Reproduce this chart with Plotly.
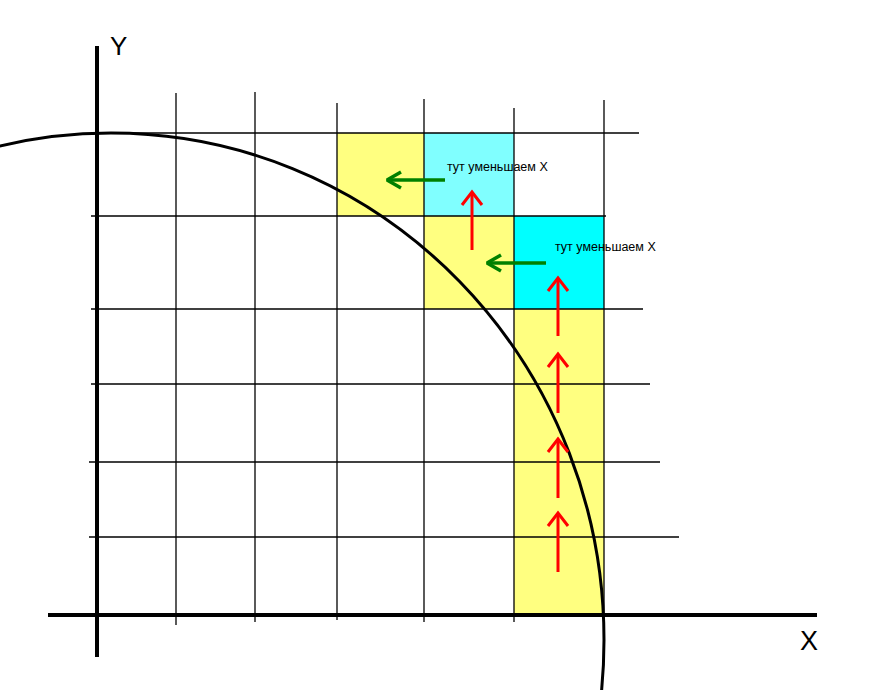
import plotly.graph_objects as go

# ---- data (chart units: origin at axes intersection, 1 unit ~ 1 px) ----
grid_x = [79, 158, 240, 327, 417, 507]          # vertical grid lines
grid_x_top = [522, 523, 512, 516, 507, 515]
grid_x_bottom = [-10, -7, -5, -7, -7, 0]
grid_y = [482, 399, 306, 231, 153, 78]          # horizontal grid lines
grid_y_left = [0, -6, -6, -6, -8, -8]
grid_y_right = [542, 509, 546, 553, 563, 582]

cells_x0 = [240, 327, 327, 417, 417]
cells_x1 = [327, 417, 417, 507, 507]
cells_y0 = [399, 399, 306, 306, 0]
cells_y1 = [482, 482, 399, 399, 306]
cells_color = ["#FFFF80", "#80FFFF", "#FFFF80", "#00FFFF", "#FFFF80"]

# arc (hand drawn circle) : centre and radii
arc_cx, arc_cy = 14, -25
arc_rx, arc_ry = 493, 507

red_x = [375, 461, 461, 461, 461]
red_y0 = [365, 279, 202, 117, 43]
red_y1 = [423, 337, 261, 176, 102]

green_y = [435, 352]
green_x0 = [348, 449]
green_x1 = [290, 390]

note_text = "тут уменьшаем X"
note_x = [348, 456]
note_y = [448, 368]

# ---- figure ----
fig = go.Figure()
shapes = []

for x0, x1, y0, y1, c in zip(cells_x0, cells_x1, cells_y0, cells_y1, cells_color):
    shapes.append(dict(type="rect", xref="x", yref="y", x0=x0, x1=x1, y0=y0, y1=y1,
                       fillcolor=c, line=dict(width=0), layer="below"))

for gx, t, b in zip(grid_x, grid_x_top, grid_x_bottom):
    shapes.append(dict(type="line", xref="x", yref="y", x0=gx, x1=gx, y0=b, y1=t,
                       line=dict(color="black", width=1.3), layer="below"))
for gy, l, r in zip(grid_y, grid_y_left, grid_y_right):
    shapes.append(dict(type="line", xref="x", yref="y", x0=l, x1=r, y0=gy, y1=gy,
                       line=dict(color="black", width=1.3), layer="below"))

# axes
shapes.append(dict(type="line", xref="x", yref="y", x0=0, x1=0, y0=-42, y1=569,
                   line=dict(color="black", width=4), layer="below"))
shapes.append(dict(type="line", xref="x", yref="y", x0=-49, x1=720, y0=0, y1=0,
                   line=dict(color="black", width=4), layer="below"))

# arc
shapes.append(dict(type="circle", xref="x", yref="y",
                   x0=arc_cx - arc_rx, x1=arc_cx + arc_rx,
                   y0=arc_cy - arc_ry, y1=arc_cy + arc_ry,
                   line=dict(color="black", width=3), layer="below"))

# red arrows (up)
rx, ry = [], []
for x, y0, y1 in zip(red_x, red_y0, red_y1):
    rx += [x, x, None, x - 10, x, x + 10, None]
    ry += [y0, y1, None, y1 - 13, y1, y1 - 13, None]
fig.add_trace(go.Scatter(x=rx, y=ry, mode="lines", line=dict(color="#FF0000", width=3),
                         hoverinfo="skip", showlegend=False))

# green arrows (left)
gxs, gys = [], []
for y, x0, x1 in zip(green_y, green_x0, green_x1):
    gxs += [x0, x1, None, x1 + 14, x1, x1 + 14, None]
    gys += [y, y, None, y + 8, y, y - 8, None]
fig.add_trace(go.Scatter(x=gxs, y=gys, mode="lines", line=dict(color="#008000", width=3.5),
                         hoverinfo="skip", showlegend=False))

annotations = []
for x, y in zip(note_x, note_y):
    annotations.append(dict(x=x, y=y, xref="x", yref="y", text=note_text, showarrow=False,
                            xanchor="left", yanchor="middle",
                            font=dict(family="Liberation Sans, Arial", size=12.5, color="black")))
annotations.append(dict(x=21, y=569, xref="x", yref="y", text="Y", showarrow=False,
                        xanchor="center", yanchor="middle",
                        font=dict(family="Liberation Sans, Arial", size=26, color="black")))
annotations.append(dict(x=712, y=-26, xref="x", yref="y", text="X", showarrow=False,
                        xanchor="center", yanchor="middle",
                        font=dict(family="Liberation Sans, Arial", size=27, color="black")))

fig.update_layout(
    width=896, height=690,
    margin=dict(l=0, r=0, t=0, b=0),
    paper_bgcolor="white", plot_bgcolor="white",
    shapes=shapes, annotations=annotations,
    xaxis=dict(range=[-97, 799], visible=False, fixedrange=True),
    yaxis=dict(range=[-75, 615], visible=False, fixedrange=True),
    showlegend=False,
)

fig.write_html("out.html", config={"displayModeBar": False},
               post_script="document.body.style.margin='0';document.body.style.overflow='hidden';")
